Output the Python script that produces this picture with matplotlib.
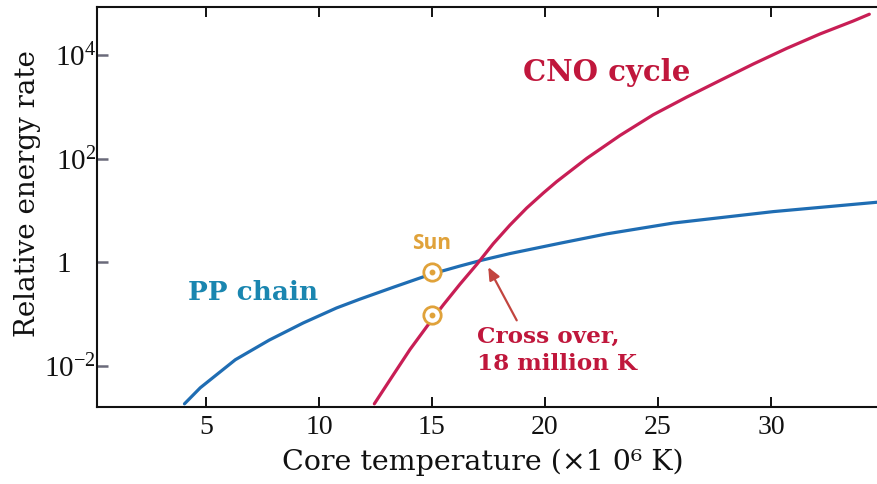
import matplotlib
matplotlib.use("Agg")
import matplotlib.pyplot as plt
import matplotlib.transforms as mtransforms
from matplotlib.ticker import FixedLocator, FixedFormatter, NullLocator

# ---- data ----
pp_temp = [4.05, 4.75, 6.3, 7.8, 9.3, 10.78, 11.81, 13.29, 14.94, 16.24,
           17.2, 18.45, 20.66, 22.73, 25.68, 30.1, 34.7]
pp_rate = [1.86e-3, 3.80e-3, 1.32e-2, 3.16e-2, 6.76e-2, 0.132, 0.195, 0.331,
           0.589, 0.851, 1.10, 1.48, 2.34, 3.55, 5.75, 9.55, 14.5]

cno_temp = [12.45, 13.29, 14.03, 14.77, 15.5, 16.24, 16.98, 17.71, 18.45,
            19.19, 19.93, 20.52, 21.85, 23.32, 24.79, 26.27, 27.74, 29.22,
            30.69, 32.17, 33.64, 34.35]
cno_rate = [1.86e-3, 6.76e-3, 2.09e-2, 5.75e-2, 0.151, 0.380, 0.912, 2.29,
            5.25, 11.2, 21.9, 36.3, 102, 282, 708, 1550, 3240, 6760,
            13500, 25700, 45700, 61700]

sun_temp = 15
sun_pp_rate = 0.64
sun_cno_rate = 0.095

x_ticks = [5, 10, 15, 20, 25, 30]
x_tick_labels = ["5", "10", "15", "20", "25", "30"]
y_ticks = [1e-2, 1, 1e2, 1e4]
y_tick_labels = ["10$^{-2}$", "1", "10$^{2}$", "10$^{4}$"]

plt.rcParams['font.family'] = ['Liberation Serif', 'DejaVu Serif']
plt.rcParams['mathtext.fontset'] = 'custom'
plt.rcParams['mathtext.rm'] = 'Liberation Serif'
plt.rcParams['mathtext.it'] = 'Liberation Serif:italic'

PP_COLOR = '#1f6db3'
CNO_COLOR = '#c81e55'
PP_TEXT = '#1a86b0'
CNO_TEXT = '#c0173c'
SUN_COLOR = '#e0a23a'
INK = '#111111'

fig = plt.figure(figsize=(8.77, 4.84), dpi=100)
ax = fig.add_axes([97/877, 1 - 406.7/484, 1 - 97/877, (406.7 - 7)/484])

ax.plot(pp_temp, pp_rate, color=PP_COLOR, lw=2.3, solid_capstyle='round',
        solid_joinstyle='round')
ax.plot(cno_temp, cno_rate, color=CNO_COLOR, lw=2.3, solid_capstyle='round',
        solid_joinstyle='round')

for r in (sun_pp_rate, sun_cno_rate):
    ax.plot([sun_temp], [r], marker='o', ms=12.5, mfc='white', mec=SUN_COLOR,
            mew=2.0, zorder=5)
    ax.plot([sun_temp], [r], marker='o', ms=3.2, mfc=SUN_COLOR, mec=SUN_COLOR,
            zorder=6)

ax.set_yscale('log')
ax.set_xlim(0.18, 34.69)
ax.set_ylim(10**-2.786, 10**4.93)

ax.xaxis.set_major_locator(FixedLocator(x_ticks))
ax.xaxis.set_major_formatter(FixedFormatter(x_tick_labels))
ax.xaxis.set_minor_locator(NullLocator())
ax.yaxis.set_major_locator(FixedLocator(y_ticks))
ax.yaxis.set_major_formatter(FixedFormatter(y_tick_labels))
ax.yaxis.set_minor_locator(NullLocator())

ax.tick_params(axis='x', direction='in', length=7, width=1.4, color=INK,
               labelsize=20, pad=6, top=True, bottom=True, labelcolor=INK)
ax.tick_params(axis='y', direction='in', length=8, width=1.8, color='#6a6a7a',
               labelsize=21, pad=0.5, labelcolor=INK)

for s in ('top', 'bottom', 'left'):
    ax.spines[s].set_linewidth(1.5)
    ax.spines[s].set_color(INK)
ax.spines['right'].set_visible(False)

ax.set_ylabel('Relative energy rate', fontsize=20, va='center', color=INK,
              family='DejaVu Serif')
ax.yaxis.set_label_coords(-0.0897, 0.533)
ax.set_xlabel('Core temperature (×1 0⁶ K)', fontsize=20.5, va='center',
              color=INK, family='DejaVu Serif')
ax.xaxis.set_label_coords(0.494, -0.138)

bold_serif = dict(family='DejaVu Serif', weight='bold')
ax.text(22.74, 10**3.67, 'CNO cycle', color=CNO_TEXT, fontsize=21,
        ha='center', va='center', **bold_serif)
ax.text(7.08, 10**-0.58, 'PP chain', color=PP_TEXT, fontsize=19,
        ha='center', va='center', **bold_serif)
ax.text(15.0, 10**0.367, 'Sun', color=SUN_COLOR, fontsize=15,
        ha='center', va='center', family='Open Sans', weight='bold')

ax.annotate('', xy=(17.49, 0.81), xytext=(18.75, 0.076),
            arrowprops=dict(arrowstyle='-|>,head_length=0.75,head_width=0.33',
                            color='#c2453f', lw=1.6, shrinkA=0, shrinkB=0))
ax.text(16.99, 10**-1.70, 'Cross over,\n18 million K', color=CNO_TEXT,
        fontsize=16.7, ha='left', va='center', linespacing=1.3, **bold_serif)

# the "1" label sits further left in the original
fig.canvas.draw()
for t in ax.yaxis.get_major_ticks():
    if t.label1.get_text() == '1':
        t.label1.set_transform(t.label1.get_transform() +
                               mtransforms.ScaledTranslation(-18/72, 0, fig.dpi_scale_trans))

fig.savefig('out.png', dpi=100, facecolor='white')
